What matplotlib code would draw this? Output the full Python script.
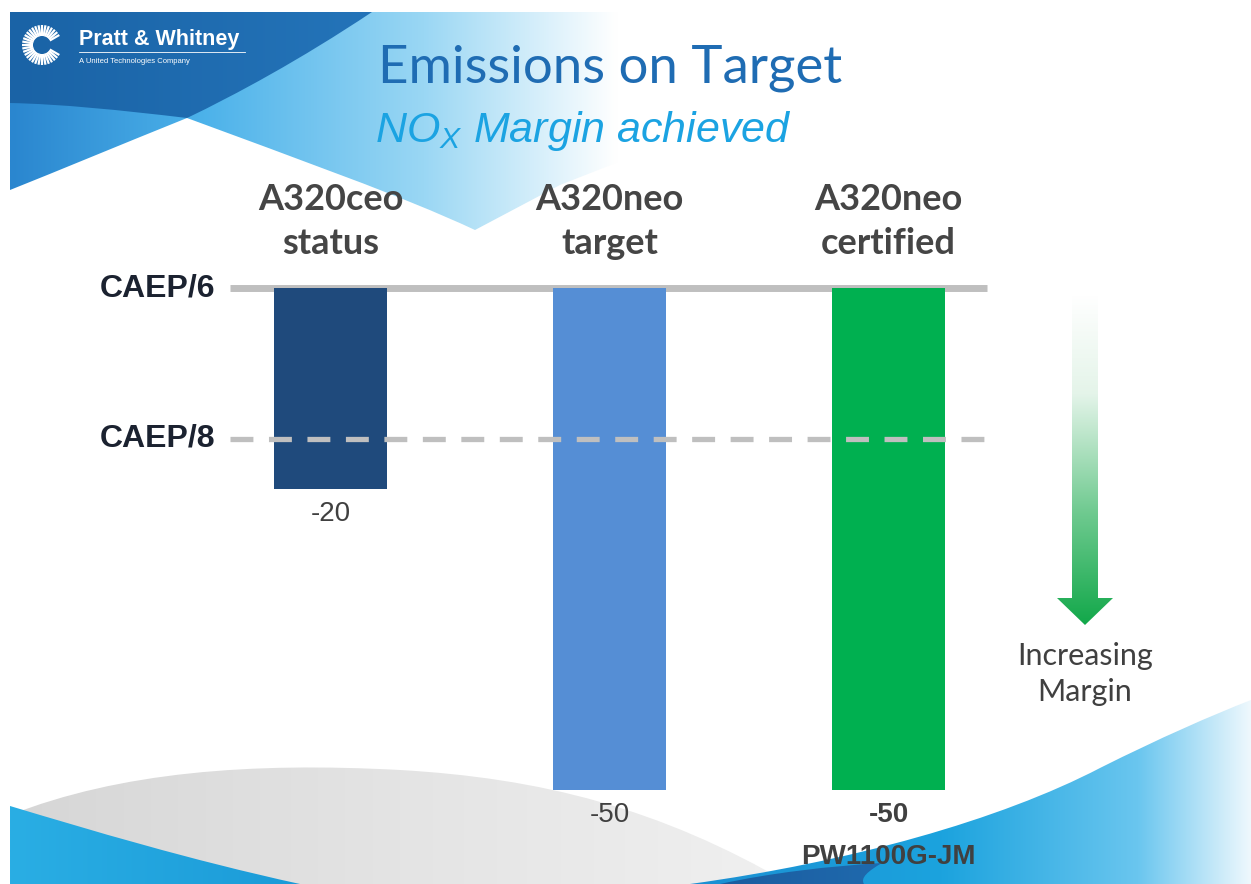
import numpy as np
import matplotlib
matplotlib.use("Agg")
import matplotlib.pyplot as plt
from matplotlib.path import Path
from matplotlib.patches import PathPatch
from matplotlib.colors import LinearSegmentedColormap

# --- chart data ---
categories = ["A320ceo\nstatus", "A320neo\ntarget", "A320neo\ncertified"]
values = [-20, -50, -50]
value_labels = ["-20", "-50", "-50"]
bar_colors = ["#1f4a7c", "#558ed5", "#00b050"]
caep6_level = 0
caep8_level = -15
engine_note = "PW1100G-JM"

W, H = 1251, 884
fig = plt.figure(figsize=(W / 100, H / 100), dpi=100)
fig.patch.set_facecolor("white")

# background decoration axes in pixel coordinates (y down)
bg = fig.add_axes([0, 0, 1, 1])
bg.set_axis_off()


def grad_shape(verts, codes, stops, extent, vertical=False, z=1):
    path = Path(verts, codes)
    patch = PathPatch(path, fc="none", ec="none", transform=bg.transData)
    bg.add_patch(patch)
    cmap = LinearSegmentedColormap.from_list("g", stops)
    g = np.linspace(0, 1, 256)
    g = g.reshape(-1, 1) if vertical else g.reshape(1, -1)
    im = bg.imshow(g, cmap=cmap, extent=extent, aspect="auto",
                   interpolation="bilinear", zorder=z)
    im.set_clip_path(patch)


M, L, C, Z = Path.MOVETO, Path.LINETO, Path.CURVE4, Path.CLOSEPOLY

# light blue wedge behind the title
v = [(10, 12), (700, 12), (700, 130), (560, 185), (475, 230),
     (400, 195), (300, 160), (187, 118),
     (120, 145), (60, 170), (10, 190), (10, 12)]
c = [M, L, L, L, L, C, C, C, C, C, C, Z]
grad_shape(v, c, [(0, "#2a86cf"), (0.28, "#4cb2ea"), (0.6, "#9ad7f4"),
                  (0.88, "#ffffff"), (1, "#ffffff")], (10, 700, 240, 12), z=1)

# dark blue corner
v = [(10, 12), (372, 12), (300, 60), (235, 95), (187, 118),
     (120, 110), (60, 104), (10, 103), (10, 12)]
c = [M, L, C, C, C, C, C, C, Z]
grad_shape(v, c, ["#1a63a6", "#2474b9"], (10, 372, 120, 12), z=2)

# grey swoosh at the bottom
v = [(10, 815), (120, 772), (250, 762), (400, 770),
     (540, 778), (660, 808), (790, 884), (10, 884), (10, 815)]
c = [M, C, C, C, C, C, C, L, Z]
grad_shape(v, c, ["#d6d6d6", "#e4e4e4", "#f0f0f0"], (10, 790, 884, 760), z=1)

# bright blue bottom left
v = [(10, 806), (90, 830), (190, 860), (300, 884), (10, 884), (10, 806)]
c = [M, C, C, C, L, Z]
grad_shape(v, c, ["#2aaee4", "#1b9bd8"], (10, 300, 884, 806), z=2)

# bright blue bottom right
v = [(690, 884), (850, 862), (1000, 820), (1100, 768),
     (1160, 738), (1210, 716), (1251, 700), (1251, 884), (690, 884)]
c = [M, C, C, C, C, C, C, L, Z]
grad_shape(v, c, [(0, "#1b8fd2"), (0.45, "#1ca3de"), (0.8, "#6ac6ef"),
                  (1, "#eef8fd")], (690, 1251, 884, 700), z=2)

# darker piece at the bottom edge
v = [(720, 884), (770, 873), (830, 866), (882, 863),
     (868, 871), (860, 878), (864, 884), (720, 884)]
c = [M, C, C, C, C, C, C, Z]
grad_shape(v, c, ["#1b5c9f", "#1f6aae"], (720, 885, 884, 862), z=3)

# logo
cx, cy = 42, 45
for a in np.linspace(0, 2 * np.pi, 36, endpoint=False):
    if abs(np.degrees(a)) < 25 or abs(np.degrees(a) - 360) < 25:
        continue
    bg.plot([cx + 9 * np.cos(a), cx + 20 * np.cos(a)],
            [cy - 9 * np.sin(a), cy - 20 * np.sin(a)],
            color="white", lw=1.6, zorder=5, solid_capstyle="butt")
bg.text(79, 45, "Pratt & Whitney", color="white", fontsize=15.5,
        fontweight="bold", family="Liberation Sans", va="baseline", zorder=5)
bg.plot([79, 245], [52, 52], color="white", lw=0.6, zorder=5)
bg.text(79, 63, "A United Technologies Company", color="white", fontsize=5.5,
        family="Liberation Sans", va="baseline", zorder=5)

# titles
bg.text(378, 82, "Emissions on Target", color="#1f6cb3", fontsize=38,
        family="Lato", va="baseline", zorder=5)
plt.rcParams["mathtext.fontset"] = "custom"
plt.rcParams["mathtext.rm"] = "Liberation Sans:italic"
bg.text(375, 142, r"NO$_{\mathrm{X}}$ Margin achieved", color="#1ba3e2",
        fontsize=31, style="italic", family="Liberation Sans",
        va="baseline", zorder=5)

# gradient arrow
arrow = [(1072, 295), (1098, 295), (1098, 598), (1113, 598), (1085, 625),
         (1057, 598), (1072, 598), (1072, 295)]
grad_shape(arrow, [M] + [L] * 6 + [Z],
           [(0, "#ffffff"), (0.3, "#e4f4e9"), (0.65, "#72cb92"), (1, "#12a84a")],
           (1055, 1115, 625, 295), vertical=True, z=4)
bg.text(1085, 656, "Increasing", color="#404040", fontsize=22, family="Lato",
        ha="center", va="center", zorder=5)
bg.text(1085, 692, "Margin", color="#404040", fontsize=22, family="Lato",
        ha="center", va="center", zorder=5)

bg.set_xlim(0, W)
bg.set_ylim(H, 0)

# --- bar chart axes ---
ax = fig.add_axes([150 / W, 4 / H, 920 / W, 700 / H])
ax.set_axis_off()
ax.patch.set_alpha(0)
x = np.arange(len(categories))
ax.bar(x, values, width=0.405, color=bar_colors, zorder=3)

plt.rcParams["lines.scale_dashes"] = False
ax.plot([-0.362, 2.353], [caep6_level] * 2, color="#bfbfbf", lw=5,
        solid_capstyle="butt", zorder=2)
ax.plot([-0.362, 2.353], [caep8_level] * 2, color="#bfbfbf", lw=3.8,
        dashes=(16.5, 11.2), zorder=4)

ax.text(-0.416, caep6_level, "CAEP/6", ha="right", va="center", fontsize=23,
        fontweight="bold", color="#1b2230", family="Liberation Sans")
ax.text(-0.416, caep8_level, "CAEP/8", ha="right", va="center", fontsize=23,
        fontweight="bold", color="#1b2230", family="Liberation Sans")

for i, (cat, val, lab) in enumerate(zip(categories, values, value_labels)):
    ax.text(x[i], 6.6, cat, ha="center", va="center", fontsize=26,
            fontweight="bold", color="#454545", family="Lato", linespacing=1.4)
    ax.text(x[i], val - 2.5, lab, ha="center", va="center", fontsize=20,
            color="#404040", family="Liberation Sans",
            fontweight="bold" if i == 2 else "normal")
ax.text(x[2], values[2] - 6.7, engine_note, ha="center", va="center",
        fontsize=20, fontweight="bold", color="#404040",
        family="Liberation Sans")

ax.set_xlim(-0.649, 2.651)
ax.set_ylim(-58.96, 10.757)

fig.savefig("out.png", dpi=100)
